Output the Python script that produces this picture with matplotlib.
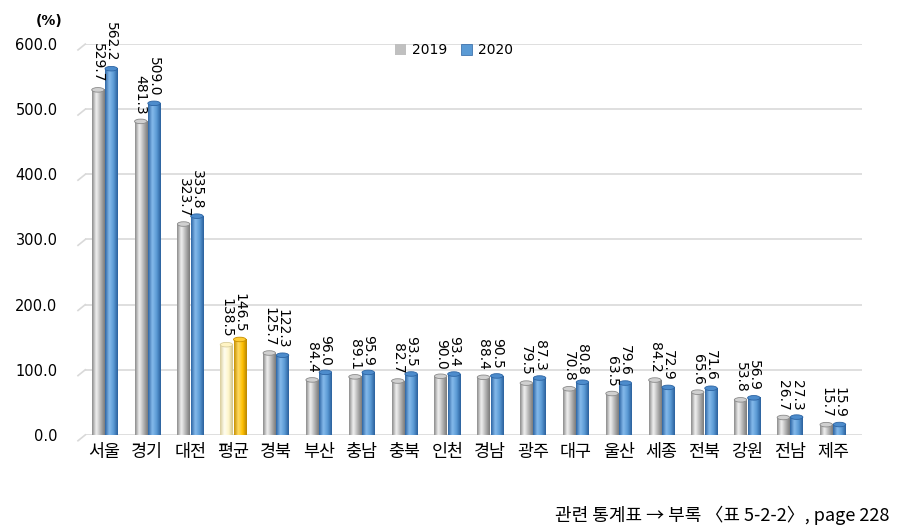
import numpy as np
import matplotlib.pyplot as plt
from matplotlib.patches import Ellipse
from matplotlib.colors import LinearSegmentedColormap

plt.rcParams['font.family'] = ['Noto Sans CJK KR', 'DejaVu Sans']

regions = ['서울', '경기', '대전', '평균', '경북', '부산', '충남', '충북', '인천',
           '경남', '광주', '대구', '울산', '세종', '전북', '강원', '전남', '제주']
v2019 = [529.7, 481.3, 323.7, 138.5, 125.7, 84.4, 89.1, 82.7, 90.0,
         88.4, 79.5, 70.8, 63.5, 84.2, 65.6, 53.8, 26.7, 15.7]
v2020 = [562.2, 509.0, 335.8, 146.5, 122.3, 96.0, 95.9, 93.5, 93.4,
         90.5, 87.3, 80.8, 79.6, 72.9, 71.6, 56.9, 27.3, 15.9]
yticks = [0, 100, 200, 300, 400, 500, 600]
avg_idx = regions.index('평균')

# cylinder shading colours (edge, highlight, mid, edge)
grad_gray = ['#8a8a8a', '#f2f2f2', '#b5b5b5', '#7a7a7a']
grad_blue = ['#2c64a3', '#86bbec', '#5b9bd5', '#2a5f9c']
grad_cream = ['#d8cc9a', '#fffdf0', '#fff6cc', '#cfc28a']
grad_gold = ['#c68f00', '#ffdb66', '#ffc000', '#b88400']

fig = plt.figure(figsize=(9.17, 5.31), dpi=100)
ax = fig.add_axes([0.093, 0.181, 0.847, 0.736])

x = np.arange(len(regions))
w = 0.29
gap = 0.02

def cyl(patch, colors, top):
    bx, bw, bh = patch.get_x(), patch.get_width(), patch.get_height()
    cm = LinearSegmentedColormap.from_list('c', colors)
    g = np.linspace(0, 1, 64).reshape(1, -1)
    ax.imshow(g, cmap=cm, extent=[bx, bx + bw, 0, bh], aspect='auto',
              zorder=3, interpolation='bicubic')
    ax.add_patch(Ellipse((bx + bw / 2, bh), bw, 7, facecolor=top,
                         edgecolor=colors[0], lw=0.6, zorder=4))

b1 = ax.bar(x - w / 2 - gap / 2, v2019, w, color='none', edgecolor='none', zorder=3)
b2 = ax.bar(x + w / 2 + gap / 2, v2020, w, color='none', edgecolor='none', zorder=3)
for i, (p1, p2) in enumerate(zip(b1, b2)):
    if i == avg_idx:
        cyl(p1, grad_cream, '#fff4c4')
        cyl(p2, grad_gold, '#ffcc33')
    else:
        cyl(p1, grad_gray, '#d0d0d0')
        cyl(p2, grad_blue, '#4d8ccc')

for bars, vals in ((b1, v2019), (b2, v2020)):
    for p, v in zip(bars, vals):
        ax.annotate(f'{v:.1f}', (p.get_x() + p.get_width() / 2, v),
                    xytext=(0, 5), textcoords='offset points', rotation=-90,
                    ha='center', va='bottom', fontsize=10,
                    family=['DejaVu Sans'], clip_on=False, zorder=5)

ax.set_xlim(-0.45, 17.68)
ax.set_ylim(0, 600)
ax.set_yticks(yticks)
ax.set_yticklabels([f'{t:.1f}' for t in yticks], family=['DejaVu Sans'], fontsize=10.5)
ax.set_xticks(x)
ax.set_xticklabels(regions, fontsize=12.5)
ax.tick_params(axis='both', length=0)
ax.tick_params(axis='y', pad=20)
ax.tick_params(axis='x', pad=6)
ax.yaxis.grid(True, color='#d9d9d9', lw=1.2)
ax.set_axisbelow(True)
for s in ax.spines.values():
    s.set_visible(False)

# slanted floor lines at left of each gridline
for t in yticks:
    ax.plot([-0.62, -0.45], [t - 9, t], color='#d9d9d9', lw=1.2, clip_on=False)

ax.text(-1.3, 635, '(%)', fontsize=10, fontweight='bold', ha='center',
        va='center', family=['DejaVu Sans'], clip_on=False)

h1 = plt.Rectangle((0, 0), 1, 1, fc='#c0c0c0')
h2 = plt.Rectangle((0, 0), 1, 1, fc='#5b9bd5', ec='#2c64a3', lw=0.5)
fig.legend([h1, h2], ['2019', '2020'], loc='center', bbox_to_anchor=(0.495, 0.905),
           ncol=2, frameon=False, handlelength=0.8, handleheight=0.8,
           columnspacing=1.0, handletextpad=0.4, prop={'family': ['DejaVu Sans'], 'size': 10})

fig.text(0.97, 0.03, '관련 통계표 → 부록 〈표 5-2-2〉, page 228', ha='right',
         va='center', fontsize=13)

fig.savefig('out.png', dpi=100)
